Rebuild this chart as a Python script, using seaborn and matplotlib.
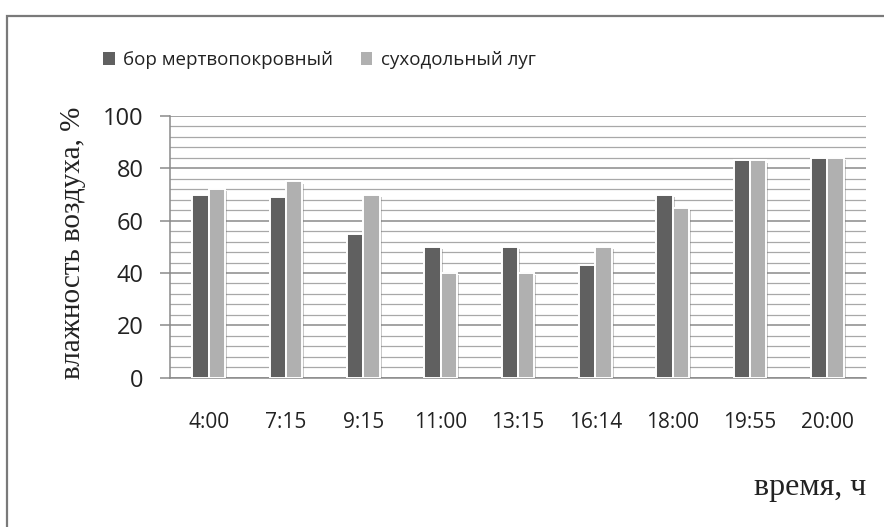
import matplotlib
matplotlib.use("Agg")
import matplotlib.pyplot as plt
import matplotlib.patheffects as pe
from matplotlib.patches import Rectangle
from matplotlib.ticker import MultipleLocator
import seaborn as sns
import pandas as pd

times = ["4:00", "7:15", "9:15", "11:00", "13:15", "16:14", "18:00", "19:55", "20:00"]
bor = [70, 69, 55, 50, 50, 43, 70, 83, 84]
lug = [72, 75, 70, 40, 40, 50, 65, 83, 84]
series_names = ["бор мертвопокровный", "суходольный луг"]
y_label = "влажность воздуха, %"
x_label = "время, ч"

df = pd.DataFrame({
    "time": times * 2,
    "value": bor + lug,
    "series": [series_names[0]] * len(times) + [series_names[1]] * len(times),
})

sns.set_theme(style="white")
sans = ["Open Sans", "DejaVu Sans"]
serif = ["Liberation Serif", "DejaVu Serif"]
plt.rcParams["font.family"] = sans

fig = plt.figure(figsize=(8.84, 5.27), dpi=100)
fig.patch.set_facecolor("white")
ax = fig.add_axes([0.1923, 0.2833, 0.7873, 0.4966])

palette = {series_names[0]: "#606060", series_names[1]: "#b0b0b0"}
sns.barplot(data=df, x="time", y="value", hue="series", order=times,
            hue_order=series_names, palette=palette, width=0.42,
            edgecolor="white", linewidth=1.4, saturation=1, ax=ax, zorder=3,
            legend=True)

shadow = [pe.SimplePatchShadow(offset=(1.5, -1.5), shadow_rgbFace="#777777", alpha=0.4), pe.Normal()]
for p in ax.patches:
    p.set_path_effects(shadow)

ax.set_ylim(0, 100)
ax.set_xlim(-0.5, len(times) - 0.5)
ax.yaxis.set_major_locator(MultipleLocator(20))
ax.yaxis.set_minor_locator(MultipleLocator(4))
ax.grid(which="major", axis="y", color="#8a8a8a", linewidth=1.1, zorder=0)
ax.grid(which="minor", axis="y", color="#a8a8a8", linewidth=0.9, zorder=0)
ax.set_axisbelow(True)

for s in ["top", "right"]:
    ax.spines[s].set_visible(False)
for s in ["left", "bottom"]:
    ax.spines[s].set_color("#8a8a8a")
    ax.spines[s].set_linewidth(1.1)

ax.tick_params(axis="y", which="major", length=7.5, width=1.1, color="#8a8a8a",
               pad=11.5, labelsize=17, labelcolor="#222222", left=True)
ax.tick_params(axis="y", which="minor", length=0)
ax.tick_params(axis="x", length=0, pad=25, labelsize=15, labelcolor="#222222")
ax.set_xlabel("")
ax.set_ylabel("")

handles, labels = ax.get_legend_handles_labels()
ax.get_legend().remove()
leg = fig.legend(handles, labels, loc="center left", bbox_to_anchor=(0.117, 0.886),
                 ncol=2, frameon=False, borderaxespad=0, borderpad=0,
                 handlelength=0.6, handleheight=0.75, handletextpad=0.45,
                 columnspacing=1.5, prop={"family": sans, "size": 13.5})
for h in leg.legend_handles:
    h.set_edgecolor("none")
    h.set_path_effects([])
for t in leg.get_texts():
    t.set_color("#222222")

fig.text(0.083, 0.539, y_label, rotation=90, ha="center", va="center",
         family=serif, fontsize=21, color="#222222")
fig.text(0.916, 0.075, x_label, ha="center", va="center",
         family=serif, fontsize=23, color="#222222")

frame = Rectangle((0.008, -0.02), 1.05, 0.99, transform=fig.transFigure,
                  fill=False, edgecolor="#7a7a7a", linewidth=1.6)
fig.patches.append(frame)

fig.savefig("out.png", dpi=100, facecolor="white")
